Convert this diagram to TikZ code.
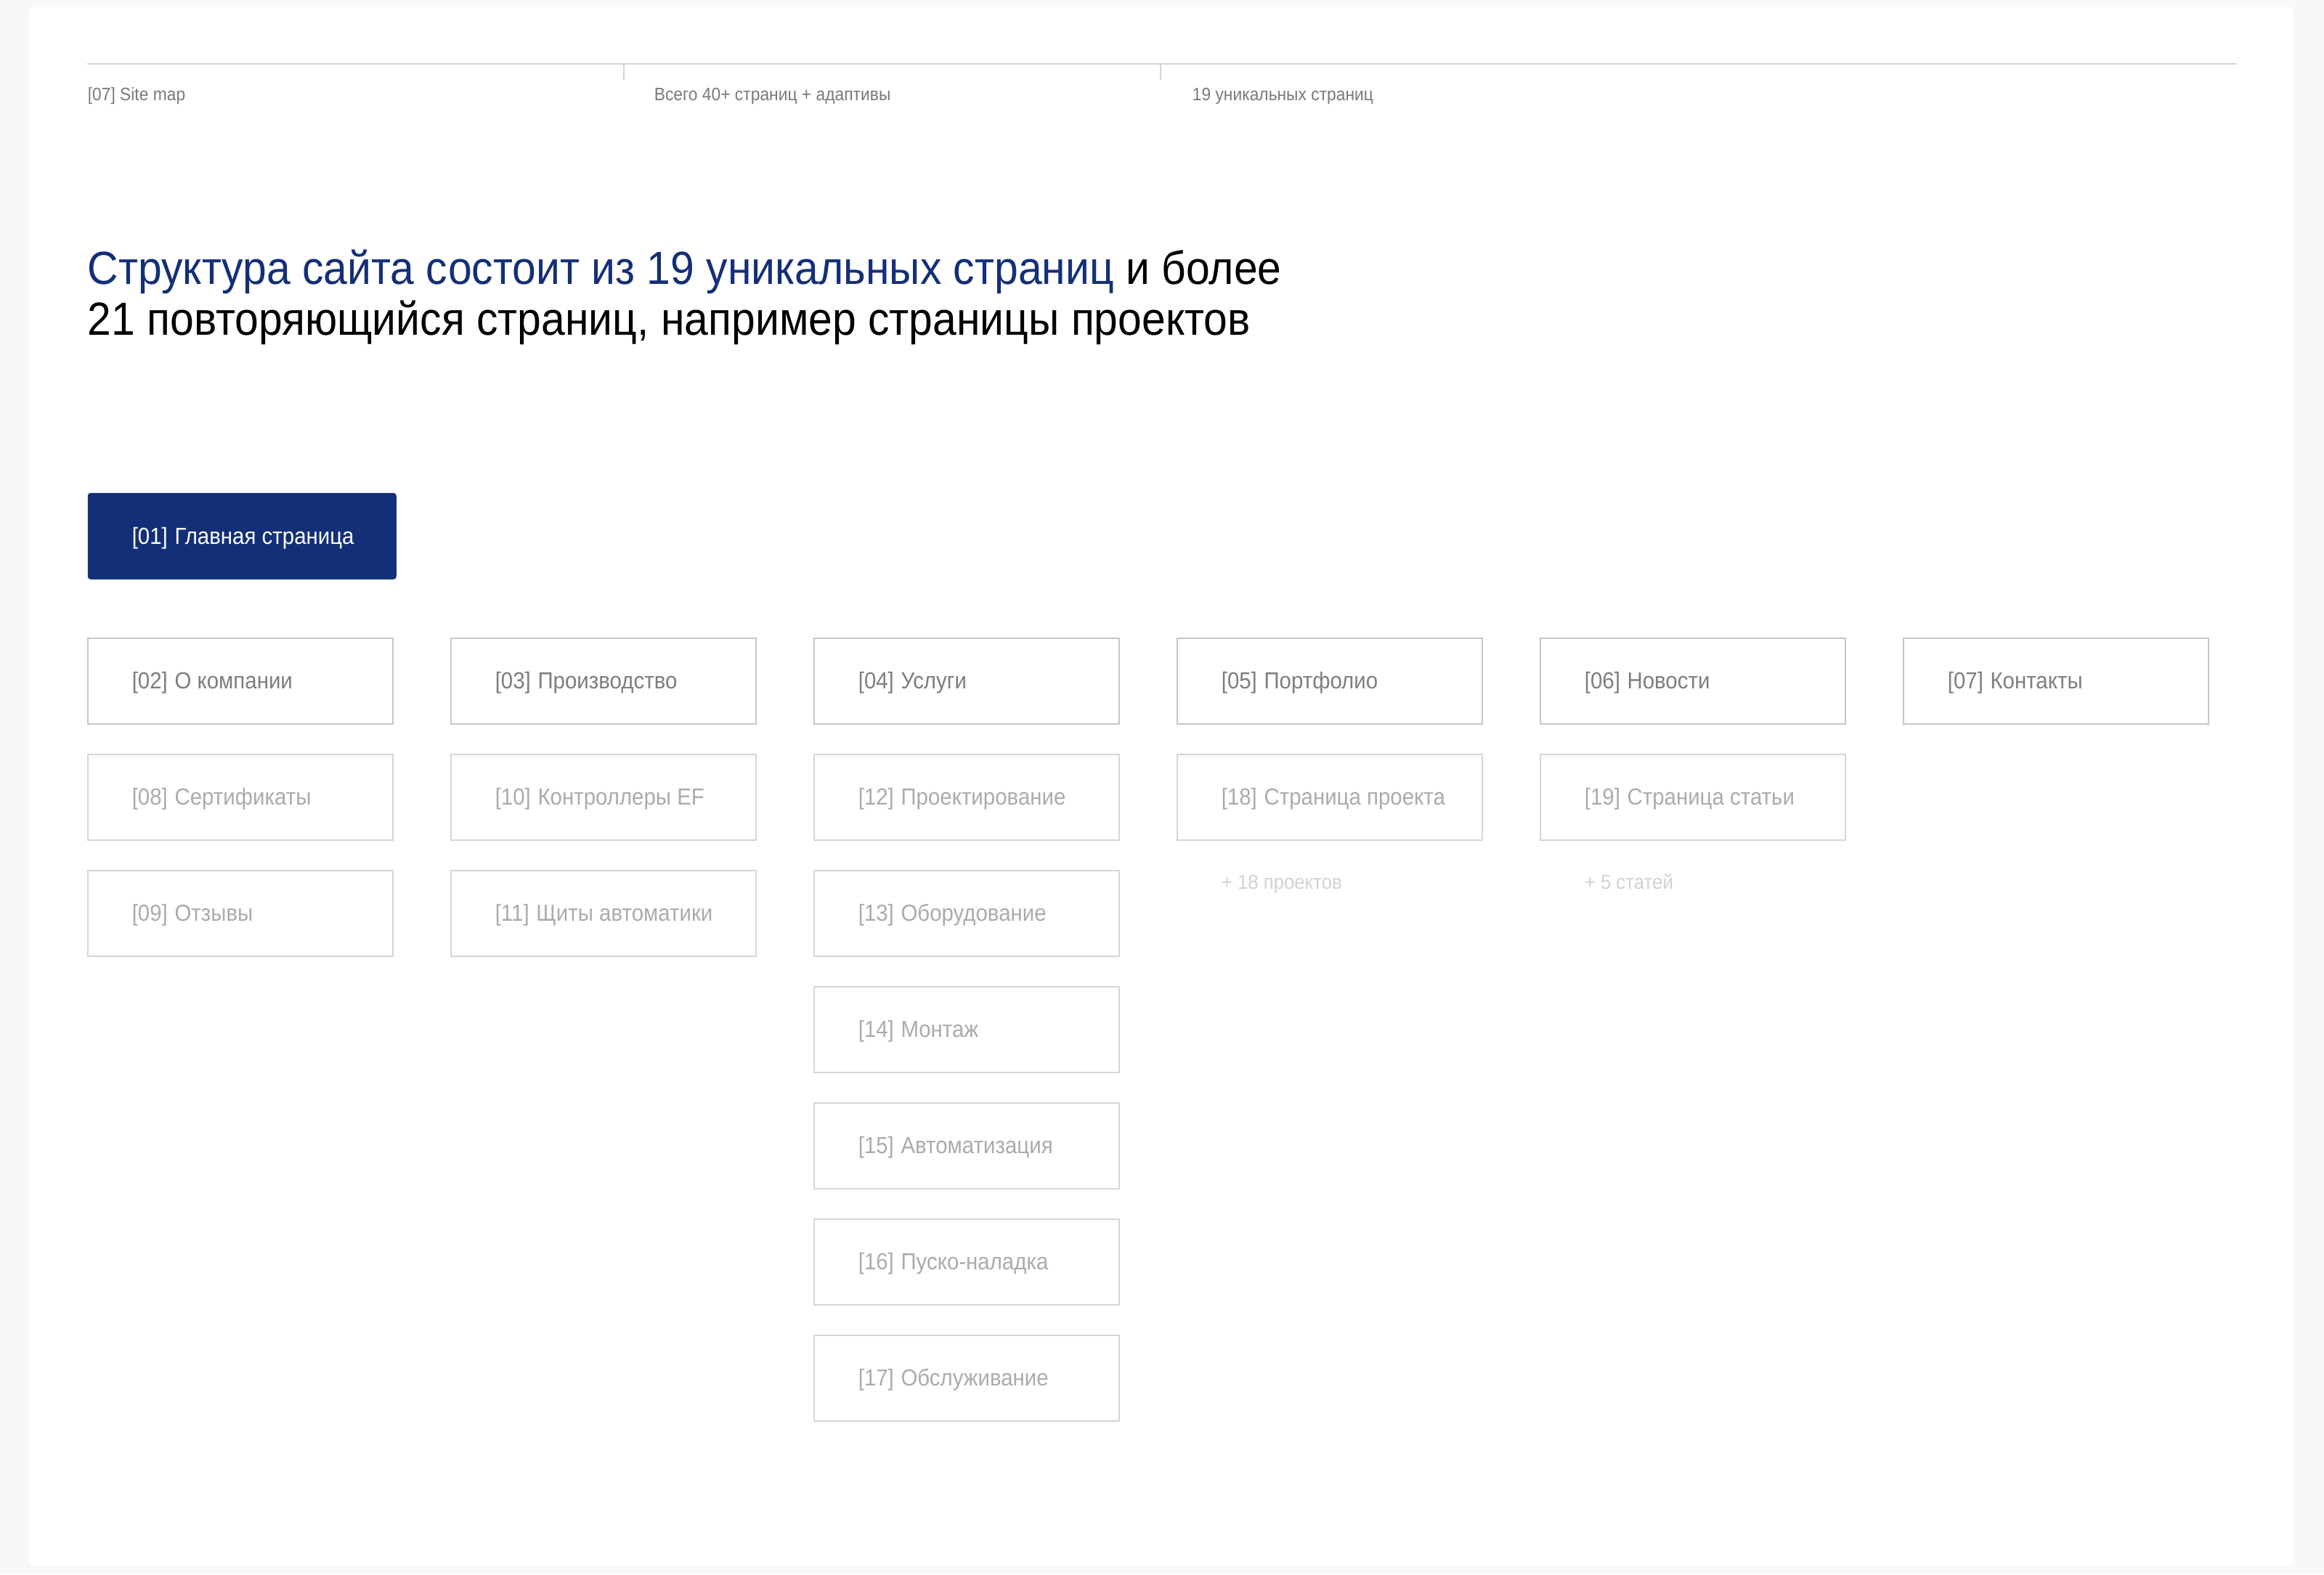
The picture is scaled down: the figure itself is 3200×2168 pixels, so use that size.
\documentclass[tikz,border=0pt]{standalone}
\usepackage{fontspec}
\setmainfont[FakeStretch=0.92]{Liberation Sans}
\definecolor{navy}{HTML}{132F78}
\definecolor{outerbg}{HTML}{F8F8F8}
\definecolor{hdrline}{HTML}{D4D4D4}
\definecolor{hdrtext}{HTML}{7A7A7A}
\definecolor{borderA}{HTML}{C6C6C6}
\definecolor{textA}{HTML}{7E7E7E}
\definecolor{borderB}{HTML}{D6D6D6}
\definecolor{textB}{HTML}{ABABAB}
\definecolor{noteC}{HTML}{D2D2D2}
\tikzset{
  boxA/.style={draw=borderA, line width=0.5pt, rectangle, minimum width=105pt, minimum height=29.5pt, inner sep=0pt, anchor=north west},
  boxB/.style={boxA, draw=borderB},
  lblA/.style={text=textA, font=\fontsize{8pt}{9.6pt}\selectfont, inner sep=0pt, anchor=base west},
  lblB/.style={lblA, text=textB},
  hdrtxt/.style={text=hdrtext, font=\fontsize{6.2pt}{7.4pt}\selectfont, inner sep=0pt, anchor=base west},
  titletxt/.style={font=\fontsize{16pt}{19pt}\selectfont, inner sep=0pt, anchor=base west},
  notetxt/.style={text=noteC, font=\fontsize{7pt}{8.4pt}\selectfont, inner sep=0pt, anchor=base west},
  mainbox/.style={fill=navy, rounded corners=1pt, rectangle, minimum width=106.25pt, minimum height=29.75pt, inner sep=0pt, anchor=north west},
}
\newcommand\sitebox[6]{%
  \node[box#6] (b#1) at ({120+500*#2},{878+160*#3}) {};
  \node[lbl#6] (t#1) at ([xshift=15.25pt,yshift=-17.5pt]b#1.north west) {[#4]\hspace{0.3em}#5};
}
\begin{document}
\begin{tikzpicture}[x=0.25pt,y=-0.25pt]
\useasboundingbox (0,0) rectangle (3200,2168);
\fill[outerbg] (0,0) rectangle (3200,2168);
\fill[white, rounded corners=1.5pt] (40,10) rectangle (3158,2156);
% header
\coordinate (hl) at (120,88);
\coordinate (hr) at (3080,88);
\draw[hdrline, line width=0.5pt] (hl) -- (hr);
\coordinate (k1) at (859,88);
\coordinate (k1b) at (859,110);
\coordinate (k2) at (1598,88);
\coordinate (k2b) at (1598,110);
\draw[hdrline, line width=0.3pt] (k1) -- (k1b);
\draw[hdrline, line width=0.3pt] (k2) -- (k2b);
\node[hdrtxt] (h1) at (120,138) {[07] Site map};
\node[hdrtxt] (h2) at (900,138) {Всего 40+ страниц + адаптивы};
\node[hdrtxt] (h3) at (1641,138) {19 уникальных страниц};
% title
\node[titletxt, text=black] (ti1) at (120,391) {\textcolor{navy}{Структура сайта состоит из 19 уникальных страниц} и более};
\node[titletxt, text=black] (ti2) at (120,461) {21 повторяющийся страниц, например страницы проектов};
% main box
\node[mainbox] (b01) at (120,678) {};
\node[lblA, text=white] (t01) at ([xshift=15.25pt,yshift=-17.75pt]b01.north west) {[01]\hspace{0.3em}Главная страница};
% row 1
\sitebox{02}{0}{0}{02}{О компании}{A}
\sitebox{03}{1}{0}{03}{Производство}{A}
\sitebox{04}{2}{0}{04}{Услуги}{A}
\sitebox{05}{3}{0}{05}{Портфолио}{A}
\sitebox{06}{4}{0}{06}{Новости}{A}
\sitebox{07}{5}{0}{07}{Контакты}{A}
% column 1
\sitebox{08}{0}{1}{08}{Сертификаты}{B}
\sitebox{09}{0}{2}{09}{Отзывы}{B}
% column 2
\sitebox{10}{1}{1}{10}{Контроллеры EF}{B}
\sitebox{11}{1}{2}{11}{Щиты автоматики}{B}
% column 3
\sitebox{12}{2}{1}{12}{Проектирование}{B}
\sitebox{13}{2}{2}{13}{Оборудование}{B}
\sitebox{14}{2}{3}{14}{Монтаж}{B}
\sitebox{15}{2}{4}{15}{Автоматизация}{B}
\sitebox{16}{2}{5}{16}{Пуско-наладка}{B}
\sitebox{17}{2}{6}{17}{Обслуживание}{B}
% column 4, 5
\sitebox{18}{3}{1}{18}{Страница проекта}{B}
\sitebox{19}{4}{1}{19}{Страница статьи}{B}
\node[notetxt] (n18) at (1681,1224) {+ 18 проектов};
\node[notetxt] (n19) at (2181,1224) {+ 5 статей};
\end{tikzpicture}
\end{document}
